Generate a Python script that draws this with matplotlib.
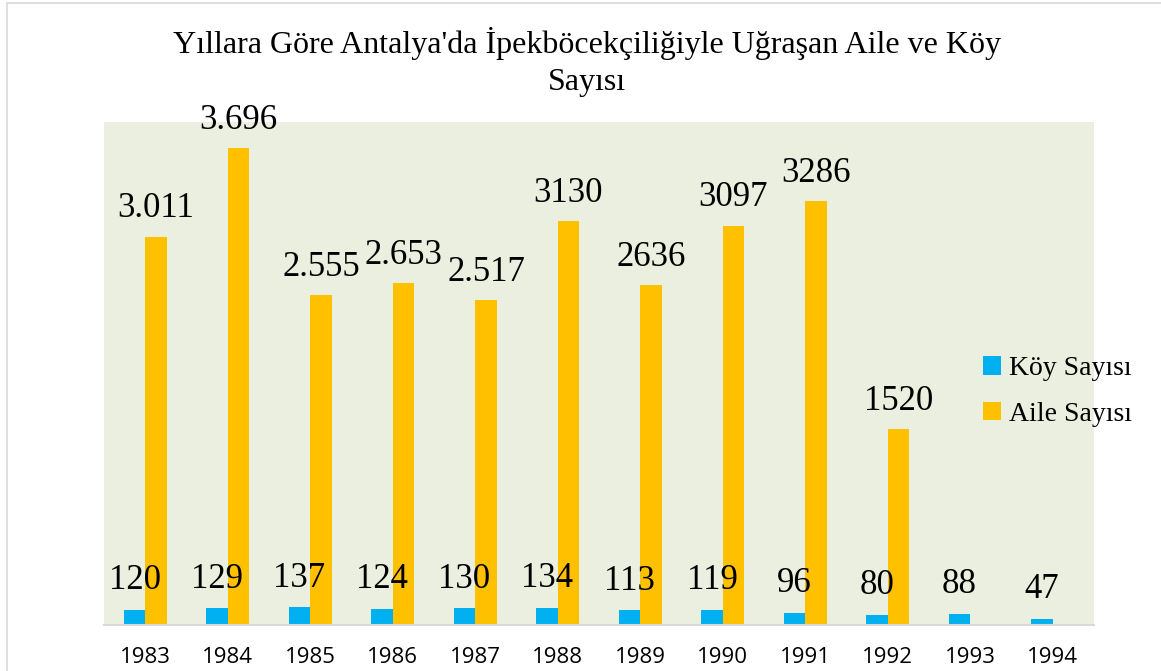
import numpy as np
import matplotlib.pyplot as plt
from matplotlib.patches import Rectangle

# data
years = ["1983", "1984", "1985", "1986", "1987", "1988",
         "1989", "1990", "1991", "1992", "1993", "1994"]
koy = [120, 129, 137, 124, 130, 134, 113, 119, 96, 80, 88, 47]
aile = [3011, 3696, 2555, 2653, 2517, 3130, 2636, 3097, 3286, 1520, np.nan, np.nan]
aile_labels = ["3.011", "3.696", "2.555", "2.653", "2.517", "3130",
               "2636", "3097", "3286", "1520", "", ""]

title = "Yıllara Göre Antalya'da İpekböcekçiliğiyle Uğraşan Aile ve Köy\nSayısı"
c_koy = "#00B0F0"
c_aile = "#FFC000"
bg = "#EBEFDF"
serif = "Liberation Serif"

fig = plt.figure(figsize=(11.61, 6.71), dpi=100)
ax = fig.add_axes([104 / 1161, 46 / 671, 990 / 1161, 503 / 671])
ax.set_facecolor(bg)

x = np.arange(len(years))
w = 0.26
b1 = ax.bar(x - w / 2, koy, w, color=c_koy, label="Köy Sayısı")
b2 = ax.bar(x + w / 2, aile, w, color=c_aile, label="Aile Sayısı")

for xi, v in zip(x, koy):
    ax.annotate(str(v), (xi - w / 2, v), xytext=(0, 21), textcoords="offset points",
                ha="center", va="center", fontsize=25, family=serif)
for xi, v, t in zip(x, aile, aile_labels):
    if t:
        ax.annotate(t, (xi + w / 2, v), xytext=(0, 20), textcoords="offset points",
                    ha="center", va="center", fontsize=25, family=serif)

ax.set_xlim(-0.5, len(years) - 0.5)
ax.set_ylim(0, 3900)
ax.set_xticks(x)
ax.set_xticklabels(years, fontsize=16, family="Open Sans")
ax.tick_params(axis="x", length=0, pad=16)
ax.set_yticks([])
for s in ["top", "left", "right"]:
    ax.spines[s].set_visible(False)
ax.spines["bottom"].set_color("#D9D9D9")
ax.spines["bottom"].set_linewidth(1.5)

fig.text(587 / 1161, 1 - 62 / 671, title, ha="center", va="center",
         fontsize=23, family=serif, linespacing=1.35)

fig.legend(handles=[b1, b2], loc="upper left", bbox_to_anchor=(958 / 1161, 1 - 331 / 671),
           frameon=False, prop={"family": serif, "size": 20},
           handlelength=0.65, handleheight=0.65, handletextpad=0.3, labelspacing=0.75)

fig.patches.append(Rectangle((7 / 1161, -0.01), 1.0, 1 - 3 / 671 + 0.01,
                             transform=fig.transFigure, fill=False,
                             edgecolor="#D9D9D9", linewidth=1.2))

fig.savefig("out.png", dpi=100)
